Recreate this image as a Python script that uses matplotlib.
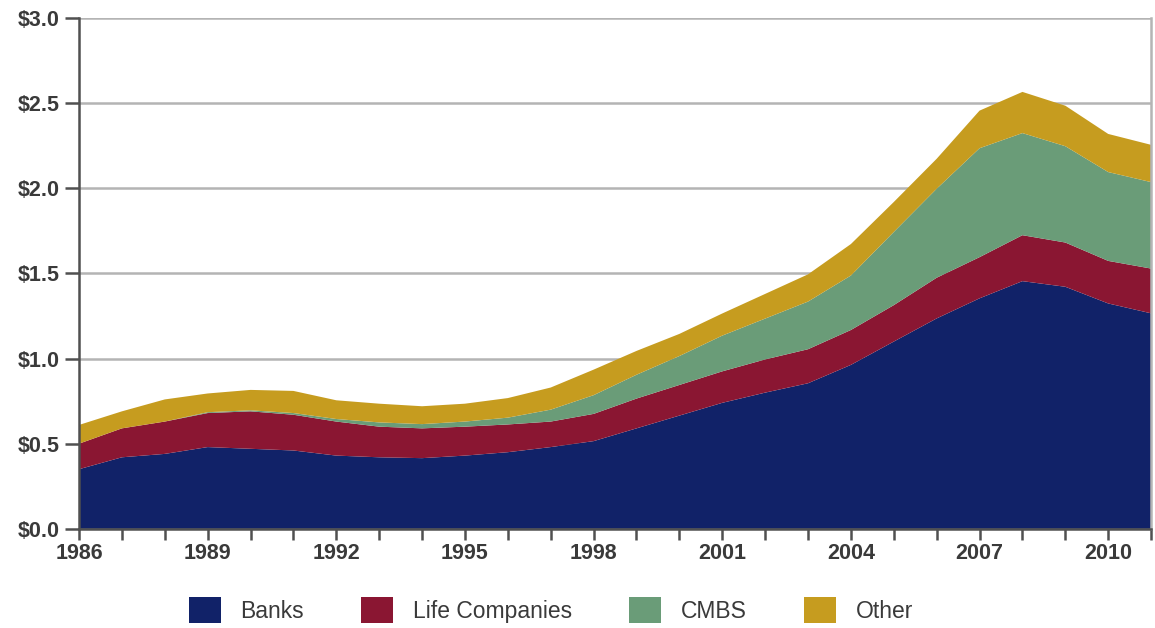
import numpy as np
import matplotlib.pyplot as plt
import matplotlib.patches as mpatches
from matplotlib.ticker import FixedLocator, MultipleLocator

# ---- data (trillions of dollars, by holder) ----
years = np.arange(1986, 2012)

banks = [0.35, 0.42, 0.44, 0.48, 0.47, 0.46, 0.43, 0.42, 0.415, 0.43,
         0.45, 0.48, 0.515, 0.59, 0.665, 0.74, 0.80, 0.855, 0.963, 1.10,
         1.236, 1.354, 1.455, 1.422, 1.324, 1.266]
life_companies = [0.15, 0.17, 0.19, 0.20, 0.22, 0.21, 0.20, 0.18, 0.175, 0.17,
                  0.163, 0.15, 0.16, 0.175, 0.18, 0.185, 0.195, 0.20, 0.205, 0.214,
                  0.239, 0.242, 0.27, 0.26, 0.25, 0.263]
cmbs = [0.0, 0.0, 0.0, 0.005, 0.006, 0.01, 0.015, 0.025, 0.025, 0.03,
        0.04, 0.07, 0.11, 0.14, 0.17, 0.21, 0.24, 0.28, 0.32, 0.43,
        0.523, 0.64, 0.60, 0.566, 0.522, 0.508]
other = [0.11, 0.10, 0.13, 0.11, 0.12, 0.13, 0.11, 0.11, 0.105, 0.105,
         0.115, 0.13, 0.15, 0.14, 0.13, 0.13, 0.145, 0.16, 0.185, 0.176,
         0.176, 0.221, 0.242, 0.238, 0.224, 0.219]

labels = ["Banks", "Life Companies", "CMBS", "Other"]
colors = ["#112268", "#8a1632", "#6a9c78", "#c69c1f"]

year_labels = [1986, 1989, 1992, 1995, 1998, 2001, 2004, 2007, 2010]
y_ticks = [0.0, 0.5, 1.0, 1.5, 2.0, 2.5, 3.0]

# ---- style ----
plt.rcParams["font.family"] = ["Liberation Sans", "DejaVu Sans"]
text_color = "#3a3a3a"
grid_color = "#b4b4b4"
axis_color = "#505050"

fig = plt.figure(figsize=(11.55, 6.28), dpi=100)
ax = fig.add_axes([0.0684, 0.158, 0.9282, 0.813])

ax.stackplot(years, banks, life_companies, cmbs, other,
             colors=colors, labels=labels, linewidth=0, zorder=2)

ax.set_xlim(1986, 2011)
ax.set_ylim(0, 3.0)

ax.set_yticks(y_ticks)
ax.set_yticklabels([f"${v:.1f}" for v in y_ticks])
ax.xaxis.set_major_locator(FixedLocator(year_labels))
ax.xaxis.set_minor_locator(MultipleLocator(1))
ax.set_xticklabels([str(y) for y in year_labels])

ax.yaxis.grid(True, color=grid_color, linewidth=1.8, zorder=1)
ax.set_axisbelow(True)

ax.spines["top"].set_visible(False)
ax.spines["left"].set_color(axis_color)
ax.spines["left"].set_linewidth(1.8)
ax.spines["bottom"].set_color(axis_color)
ax.spines["bottom"].set_linewidth(1.8)
ax.spines["right"].set_color(grid_color)
ax.spines["right"].set_linewidth(1.8)

ax.tick_params(axis="y", direction="out", length=10, width=1.8, color=axis_color,
               labelsize=15.5, labelcolor=text_color, pad=4)
ax.tick_params(axis="x", which="both", direction="out", length=8, width=1.8,
               color=axis_color, labelsize=15.5, labelcolor=text_color, pad=2)
for lab in ax.get_xticklabels() + ax.get_yticklabels():
    lab.set_fontweight("bold")

handles = [mpatches.Patch(facecolor=c, edgecolor="none") for c in colors]
fig.legend(handles, labels, loc="center", bbox_to_anchor=(0.477, 18 / 628),
           ncol=4, frameon=False, fontsize=16.5, labelcolor=text_color,
           handlelength=1.4, handleheight=1.4, handletextpad=0.85,
           columnspacing=2.5, borderaxespad=0.0, borderpad=0.0)

fig.savefig("out.png", dpi=100)
